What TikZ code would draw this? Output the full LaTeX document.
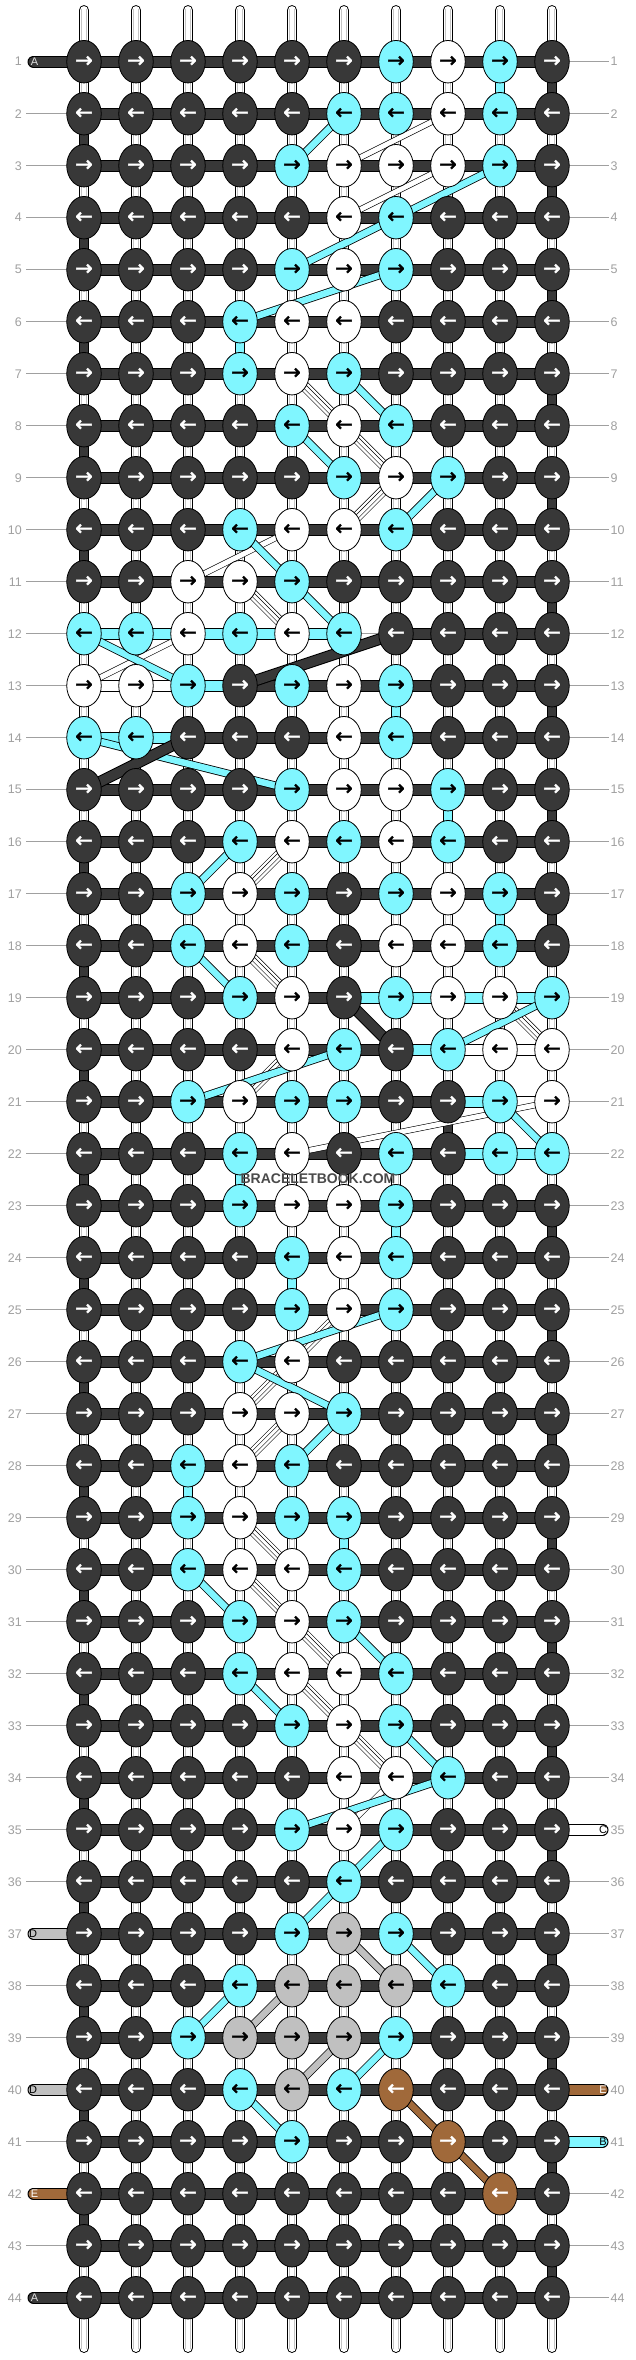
\documentclass[tikz,border=0pt]{standalone}
\usepackage{fontspec}
\setmainfont{Liberation Sans}
\newfontfamily\arrowfont{DejaVu Sans}[FakeBold=1.6]
\usetikzlibrary{shapes.geometric}
\definecolor{dk}{HTML}{383838}
\definecolor{cy}{HTML}{80F6FF}
\definecolor{gy}{HTML}{C0C0C0}
\definecolor{br}{HTML}{A0693A}
\definecolor{lb}{HTML}{A0A0A0}
\definecolor{tg}{HTML}{C4C4C4}
\definecolor{wm}{HTML}{4A4A4A}
\pgfdeclarelayer{paper}
\pgfdeclarelayer{tubes}
\pgfdeclarelayer{segs}
\pgfdeclarelayer{diag}
\pgfsetlayers{paper,tubes,segs,diag,main}
\tikzset{
 knot/.style={ellipse, draw=black, line width=0.8pt, minimum width=34.5pt, minimum height=42.5pt, inner sep=0pt, font=\arrowfont\fontsize{21}{21}\selectfont},
 kD/.style={fill=dk, text=white},
 kC/.style={fill=cy, text=black},
 kW/.style={fill=white, text=black},
 kG/.style={fill=gy, text=black},
 kB/.style={fill=br, text=white},
 tube/.style={draw=black, line width=1pt, double=white, double distance=8.5pt, line cap=round},
 tubein/.style={draw=tg, line width=0.9pt, double=white, double distance=4pt},
 vseg/.style={draw=black, line width=1pt, double=#1, double distance=8pt},
 hseg/.style={draw=black, line width=1pt, double=#1, double distance=10pt},
 tabseg/.style={draw=black, line width=1pt, double=#1, double distance=10pt, line cap=round},
 band/.style={draw=black, line width=0.8pt, double=#1, double distance=6.5pt},
 wband/.style={draw=black, line width=0.6pt, double=white, double distance=5pt},
 wwband/.style={draw=black, line width=0.6pt, double=white, double distance=9pt,
   postaction={draw=black, line width=0.6pt, double=white, double distance=3pt}},
 dband/.style={draw=black, line width=1pt, double=dk, double distance=9.5pt},
 guide/.style={draw=lb, line width=0.9pt},
 num/.style={text=lb, font=\fontsize{12.5}{12.5}\selectfont, inner sep=0pt},
 tabtxt/.style={font=\fontsize{11}{11}\selectfont, inner sep=0pt},
}
\newcommand\dg[5]{\draw[#1] (k-#2-#3.center) -- (k-#4-#5.center);}
\begin{document}
\begin{tikzpicture}[x=1pt,y=-1pt]
\useasboundingbox (0,0) rectangle (636,2360);
\begin{pgfonlayer}{paper}
\fill[white] (0,0) rectangle (636,2360);
\end{pgfonlayer}
% knots
\foreach \r/\row in {
1/{D,D,D,D,D,D,C,W,C,D},
2/{D,D,D,D,D,C,C,W,C,D},
3/{D,D,D,D,C,W,W,W,C,D},
4/{D,D,D,D,D,W,C,D,D,D},
5/{D,D,D,D,C,W,C,D,D,D},
6/{D,D,D,C,W,W,D,D,D,D},
7/{D,D,D,C,W,C,D,D,D,D},
8/{D,D,D,D,C,W,C,D,D,D},
9/{D,D,D,D,D,C,W,C,D,D},
10/{D,D,D,C,W,W,C,D,D,D},
11/{D,D,W,W,C,D,D,D,D,D},
12/{C,C,W,C,W,C,D,D,D,D},
13/{W,W,C,D,C,W,C,D,D,D},
14/{C,C,D,D,D,W,C,D,D,D},
15/{D,D,D,D,C,W,W,C,D,D},
16/{D,D,D,C,W,C,W,C,D,D},
17/{D,D,C,W,C,D,C,W,C,D},
18/{D,D,C,W,C,D,W,W,C,D},
19/{D,D,D,C,W,D,C,W,W,C},
20/{D,D,D,D,W,C,D,C,W,W},
21/{D,D,C,W,C,C,D,D,C,W},
22/{D,D,D,C,W,D,C,D,C,C},
23/{D,D,D,C,W,W,C,D,D,D},
24/{D,D,D,D,C,W,C,D,D,D},
25/{D,D,D,D,C,W,C,D,D,D},
26/{D,D,D,C,W,D,D,D,D,D},
27/{D,D,D,W,W,C,D,D,D,D},
28/{D,D,C,W,C,D,D,D,D,D},
29/{D,D,C,W,C,C,D,D,D,D},
30/{D,D,C,W,W,C,D,D,D,D},
31/{D,D,D,C,W,C,D,D,D,D},
32/{D,D,D,C,W,W,C,D,D,D},
33/{D,D,D,D,C,W,C,D,D,D},
34/{D,D,D,D,D,W,W,C,D,D},
35/{D,D,D,D,C,W,C,D,D,D},
36/{D,D,D,D,D,C,D,D,D,D},
37/{D,D,D,D,C,G,C,D,D,D},
38/{D,D,D,C,G,G,G,C,D,D},
39/{D,D,C,G,G,G,C,D,D,D},
40/{D,D,D,C,G,C,B,D,D,D},
41/{D,D,D,D,C,D,D,B,D,D},
42/{D,D,D,D,D,D,D,D,B,D},
43/{D,D,D,D,D,D,D,D,D,D},
44/{D,D,D,D,D,D,D,D,D,D}}{
  \pgfmathsetmacro\yy{61.7+52*(\r-1)}
  \ifodd\r\relax\def\ar{→}\else\def\ar{←}\fi
  \foreach \k [count=\c] in \row {
    \pgfmathsetmacro\xx{84+52*(\c-1)}
    \node[knot, k\k] (k-\r-\c) at (\xx,\yy) {\ar};
  }
  \node[num, anchor=east] (ln-\r) at (22,\yy) {\r};
  \node[num, anchor=west] (rn-\r) at (610.5,\yy) {\r};
}
% tubes
\begin{pgfonlayer}{tubes}
\foreach \c in {1,...,10}{
  \pgfmathsetmacro\xx{84+52*(\c-1)}
  \draw[tube] (\xx,10.3) -- (\xx,2347.7);
  \draw[tubein] (\xx,9) -- (\xx,2349);
}
\end{pgfonlayer}
\begin{pgfonlayer}{segs}
% edge turns
\foreach \r in {1,3,5,7,9,11,13,15,17,23,25,27,29,31,33,35,37,39,41,43}{
  \pgfmathtruncatemacro\rn{\r+1}
  \draw[vseg=dk] (k-\r-10.center) -- (k-\rn-10.center);}
\foreach \r in {2,4,6,8,10,16,18,20,22,24,26,28,30,32,34,36,38,40,42}{
  \pgfmathtruncatemacro\rn{\r+1}
  \draw[vseg=dk] (k-\r-1.center) -- (k-\rn-1.center);}
\draw[vseg=dk] (k-21-8.center) -- (k-22-8.center);
\foreach \r/\c in {1/9,6/4,13/7,15/8,17/9,22/4,23/7,24/5,28/3,29/6}{
  \pgfmathtruncatemacro\rn{\r+1}
  \draw[vseg=cy] (k-\r-\c.center) -- (k-\rn-\c.center);}
% guides
\foreach \r in {2,...,36,38,39,41,43}{
  \draw[guide] (26,{61.7+52*(\r-1)}) coordinate (gl-\r) -- (k-\r-1.center);}
\foreach \r in {1,...,34,36,37,38,39,42,43,44}{
  \draw[guide] (k-\r-10.center) -- (608.5,{61.7+52*(\r-1)}) coordinate (gr-\r);}
% tabs
\foreach \r/\col in {1/dk,44/dk,37/gy,40/gy,42/br}{
  \draw[tabseg=\col] (33.5,{61.7+52*(\r-1)}) coordinate (tl-\r) -- (k-\r-1.center);}
\foreach \r/\col in {35/white,40/br,41/cy}{
  \draw[tabseg=\col] (k-\r-10.center) -- (602.5,{61.7+52*(\r-1)}) coordinate (tr-\r);}
% horizontal rows
\foreach \r in {1,...,11,13,14,...,44}{
  \draw[hseg=dk] (k-\r-1.center) -- (k-\r-10.center);}
\draw[guide] (k-12-6.center) -- (k-12-7.center);
\draw[hseg=cy] (k-12-1.center) -- (k-12-6.center);
\draw[hseg=dk] (k-12-7.center) -- (k-12-10.center);
\draw[hseg=white] (k-13-1.center) -- (k-13-3.center);
\draw[hseg=cy] (k-13-3.center) -- (k-13-4.center);
\draw[hseg=cy] (k-14-1.center) -- (k-14-3.center);
\draw[hseg=cy] (k-19-6.center) -- (k-19-10.center);
\draw[hseg=cy] (k-20-7.center) -- (k-20-8.center);
\draw[hseg=white] (k-20-8.center) -- (k-20-10.center);
\draw[hseg=cy] (k-21-8.center) -- (k-21-9.center);
\draw[hseg=white] (k-21-9.center) -- (k-21-10.center);
\draw[hseg=cy] (k-22-8.center) -- (k-22-10.center);
\end{pgfonlayer}
\begin{pgfonlayer}{diag}
% white
\dg{wband}{2}{8}{3}{6}
\dg{wband}{3}{8}{4}{6}
\dg{wwband}{7}{5}{8}{6}
\dg{wwband}{8}{6}{9}{7}
\dg{wwband}{9}{7}{10}{6}
\dg{wband}{10}{5}{11}{3}
\dg{wwband}{11}{4}{12}{5}
\dg{wband}{12}{3}{13}{1}
\dg{wwband}{16}{5}{17}{4}
\dg{wwband}{18}{4}{19}{5}
\dg{wwband}{19}{9}{20}{10}
\dg{wwband}{20}{5}{21}{4}
\dg{wband}{21}{10}{22}{5}
\dg{wwband}{25}{6}{26}{5}
\dg{wwband}{26}{5}{27}{4}
\dg{wwband}{27}{5}{28}{4}
\dg{wwband}{29}{4}{30}{5}
\dg{wwband}{30}{4}{31}{5}
\dg{wwband}{31}{5}{32}{6}
\dg{wwband}{32}{5}{33}{6}
\dg{wwband}{33}{6}{34}{7}
\dg{wband}{34}{7}{35}{6}
% cyan
\dg{band=cy}{2}{6}{3}{5}
\dg{band=cy}{3}{9}{4}{7}
\dg{band=cy}{4}{7}{5}{5}
\dg{band=cy}{5}{7}{6}{4}
\dg{band=cy}{7}{6}{8}{7}
\dg{band=cy}{8}{5}{9}{6}
\dg{band=cy}{9}{8}{10}{7}
\dg{band=cy}{10}{4}{11}{5}
\dg{band=cy}{11}{5}{12}{6}
\dg{band=cy}{12}{1}{13}{3}
\dg{band=cy}{14}{1}{15}{5}
\dg{band=cy}{16}{4}{17}{3}
\dg{band=cy}{18}{3}{19}{4}
\dg{band=cy}{19}{10}{20}{8}
\dg{band=cy}{20}{6}{21}{3}
\dg{band=cy}{21}{9}{22}{10}
\dg{band=cy}{25}{7}{26}{4}
\dg{band=cy}{26}{4}{27}{6}
\dg{band=cy}{27}{6}{28}{5}
\dg{band=cy}{30}{3}{31}{4}
\dg{band=cy}{31}{6}{32}{7}
\dg{band=cy}{32}{4}{33}{5}
\dg{band=cy}{33}{7}{34}{8}
\dg{band=cy}{34}{8}{35}{5}
\dg{band=cy}{35}{7}{36}{6}
\dg{band=cy}{36}{6}{37}{5}
\dg{band=cy}{37}{7}{38}{8}
\dg{band=cy}{38}{4}{39}{3}
\dg{band=cy}{39}{7}{40}{6}
\dg{band=cy}{40}{4}{41}{5}
% gray
\dg{band=gy}{37}{6}{38}{7}
\dg{band=gy}{38}{5}{39}{4}
\dg{band=gy}{39}{6}{40}{5}
% brown
\dg{band=br}{40}{7}{41}{8}
\dg{band=br}{41}{8}{42}{9}
% dark
\dg{dband}{12}{7}{13}{4}
\dg{dband}{14}{3}{15}{1}
\dg{dband}{19}{6}{20}{7}
\end{pgfonlayer}
% tab letters
\node[tabtxt, text=white!88!black] (ta-1) at (34.5,61.7) {A};
\node[tabtxt, text=white!88!black] (ta-44) at (34.5,2297.7) {A};
\node[tabtxt, text=black] (ta-37) at (33,1933.7) {D};
\node[tabtxt, text=black] (ta-40) at (33,2089.7) {D};
\node[tabtxt, text=white] (ta-42) at (34.5,2193.7) {E};
\node[tabtxt, text=black] (tb-35) at (603,1829.7) {C};
\node[tabtxt, text=white] (tb-40) at (603,2089.7) {E};
\node[tabtxt, text=black] (tb-41) at (603,2141.7) {B};
% watermark
\node[text=wm, font=\bfseries\fontsize{14}{14}\selectfont, inner sep=0pt] (wm) at (318,1179) {BRACELETBOOK.COM};
\end{tikzpicture}
\end{document}
